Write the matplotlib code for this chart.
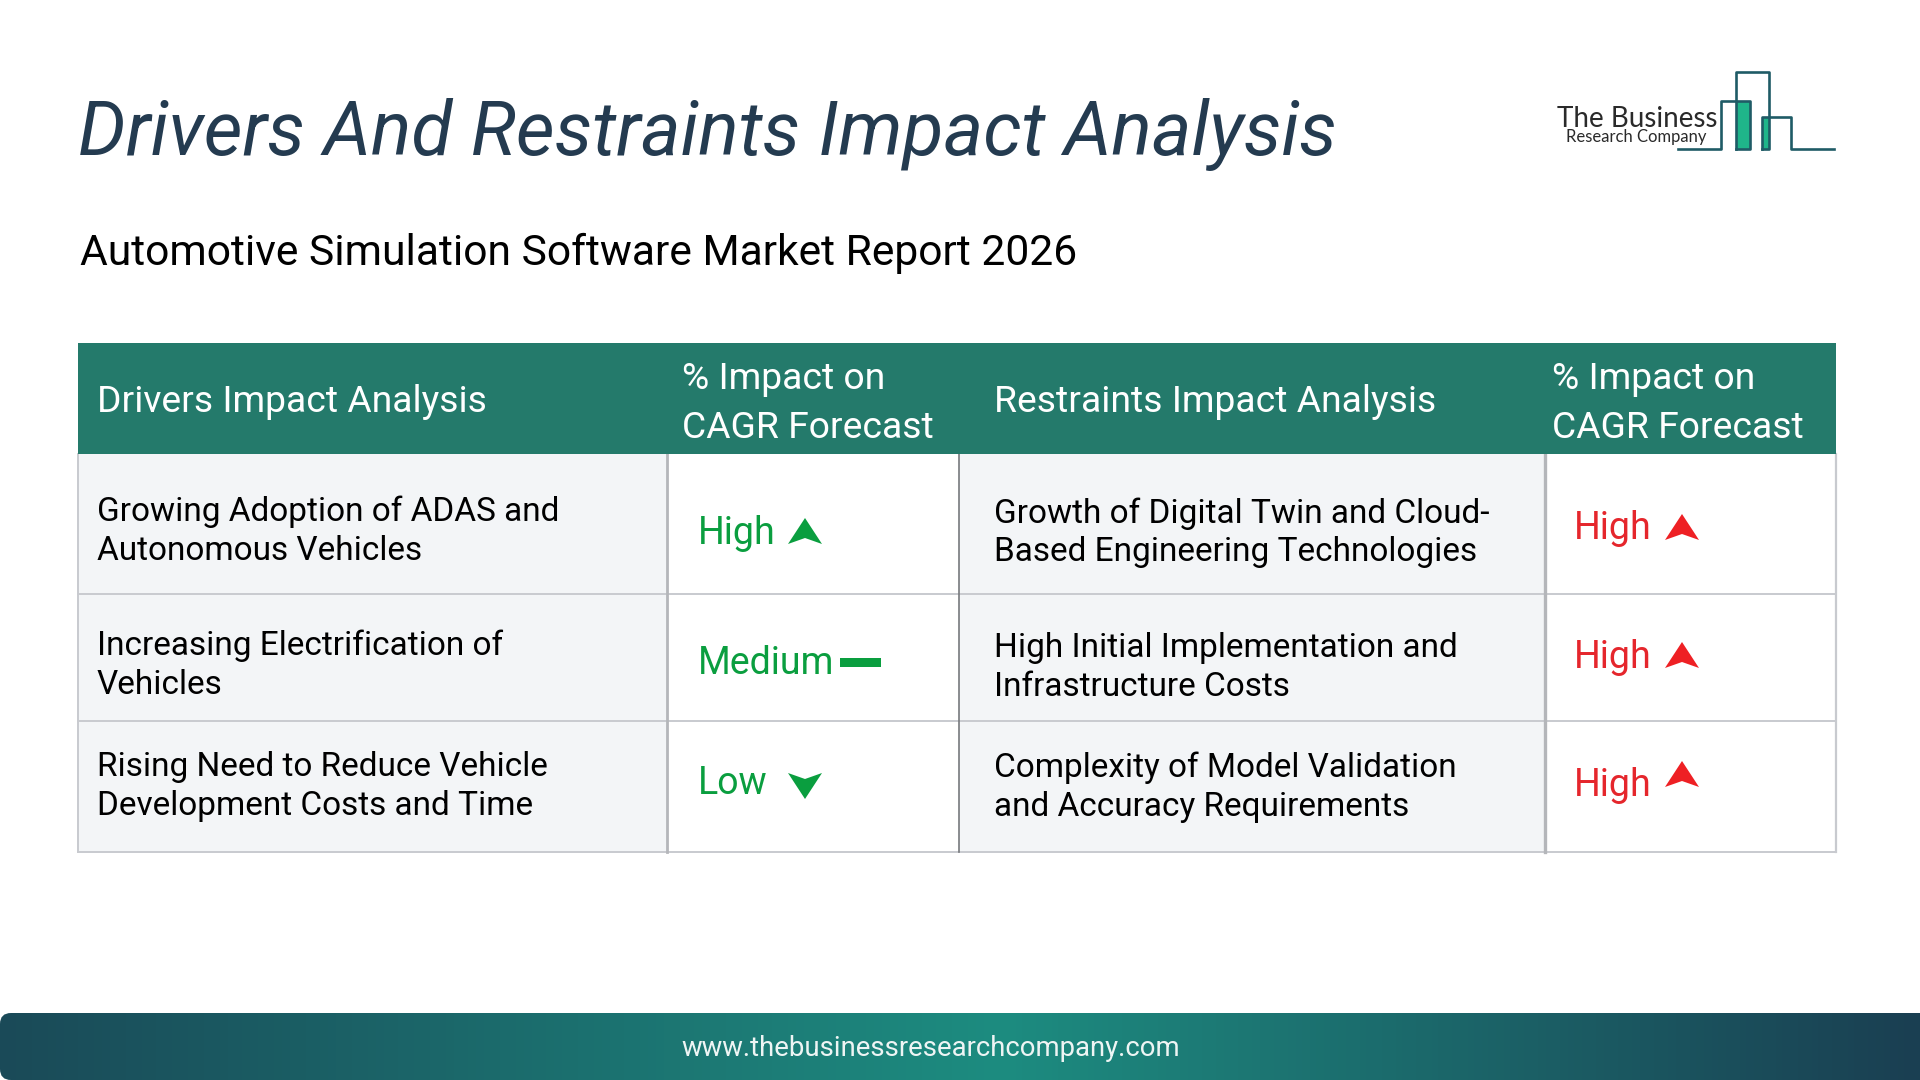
import matplotlib
matplotlib.use("Agg")
import matplotlib.pyplot as plt
from matplotlib.colors import LinearSegmentedColormap
from matplotlib.patches import FancyBboxPatch, PathPatch, Rectangle
from matplotlib.path import Path
import numpy as np

title = "Drivers And Restraints Impact Analysis"
subtitle = "Automotive Simulation Software Market Report 2026"
website = "www.thebusinessresearchcompany.com"

header_drivers = "Drivers Impact Analysis"
header_restraints = "Restraints Impact Analysis"
header_impact = ["% Impact on", "CAGR Forecast"]

drivers = [
    ["Growing Adoption of ADAS and", "Autonomous Vehicles"],
    ["Increasing Electrification of", "Vehicles"],
    ["Rising Need to Reduce Vehicle", "Development Costs and Time"],
]
driver_impact = ["High", "Medium", "Low"]
restraints = [
    ["Growth of Digital Twin and Cloud-", "Based Engineering Technologies"],
    ["High Initial Implementation and", "Infrastructure Costs"],
    ["Complexity of Model Validation", "and Accuracy Requirements"],
]
restraint_impact = ["High", "High", "High"]

FONT = "Roboto"
GREEN = "#0a9e3f"
RED = "#e5262c"
HEAD = "#247a6b"
PALE = "#f3f5f7"
GRID = "#c8cacf"

# layout in pixels of the 1920x1080 picture
col_x = [77.5, 667, 959, 1545, 1836]
row_y = [343, 454, 594, 721, 852]
driver_base = [[520.5, 560], [655, 694], [776, 815]]
restraint_base = [[522.5, 561], [656.5, 696], [777, 816]]
driver_level_base = [544, 674, 794]
restraint_level_base = [539, 668, 796]
restraint_arrow_base = [540, 668, 787]

up_arrow = Path([(-17, 0), (0, -26), (17, 0), (0, -6), (-17, 0)],
                [Path.MOVETO, Path.LINETO, Path.LINETO, Path.LINETO, Path.CLOSEPOLY])
down_arrow = Path([(-17, 0), (0, 6), (17, 0), (0, 26), (-17, 0)],
                  [Path.MOVETO, Path.LINETO, Path.LINETO, Path.LINETO, Path.CLOSEPOLY])

fig = plt.figure(figsize=(19.2, 10.8), dpi=100)
ax = fig.add_axes([0, 0, 1, 1])
ax.set_xlim(0, 1920)
ax.set_ylim(1080, 0)
ax.axis("off")


def put_arrow(path, x, y, color):
    verts = path.vertices + np.array([x, y])
    ax.add_patch(PathPatch(Path(verts, path.codes), fc=color, ec="none", zorder=4))


ax.text(78, 155, title, family=FONT, style="italic", fontsize=54.2, color="#243b50", va="baseline")
ax.text(80, 265.5, subtitle, family=FONT, fontsize=30.7, color="black", va="baseline")

# table
for c in range(4):
    face = PALE if c % 2 == 0 else "white"
    ax.add_patch(Rectangle((col_x[c], row_y[1]), col_x[c + 1] - col_x[c], row_y[-1] - row_y[1],
                           fc=face, ec="none", zorder=1))
ax.add_patch(Rectangle((col_x[0], row_y[0]), col_x[-1] - col_x[0], row_y[1] - row_y[0],
                       fc=HEAD, ec="none", zorder=3))
for y in row_y[2:]:
    ax.plot([col_x[0], col_x[-1]], [y, y], color=GRID, lw=1.4, zorder=2)
ax.plot([col_x[0], col_x[0]], [row_y[1], row_y[-1]], color=GRID, lw=1.4, zorder=2)
ax.plot([col_x[-1], col_x[-1]], [row_y[1], row_y[-1]], color=GRID, lw=1.6, zorder=2)
ax.plot([col_x[1], col_x[1]], [row_y[1], row_y[-1]], color="#b4b6ba", lw=2, zorder=2)
ax.plot([col_x[2], col_x[2]], [row_y[1], row_y[-1]], color="#77797d", lw=1.2, zorder=2)
ax.plot([col_x[3], col_x[3]], [row_y[1], row_y[-1]], color="#b4b6ba", lw=2.4, zorder=2)

ax.text(97, 411.5, header_drivers, family=FONT, fontsize=26.8, color="white", va="baseline", zorder=5)
ax.text(994, 411.5, header_restraints, family=FONT, fontsize=26.8, color="white", va="baseline", zorder=5)
for x in [682, 1552]:
    ax.text(x, 389, header_impact[0], family=FONT, fontsize=26.8, color="white", va="baseline", zorder=5)
    ax.text(x, 437.5, header_impact[1], family=FONT, fontsize=26.8, color="white", va="baseline", zorder=5)

for lines, bases in zip(drivers, driver_base):
    for line, b in zip(lines, bases):
        ax.text(97, b, line, family=FONT, fontsize=24, color="black", va="baseline", zorder=5)
for lines, bases in zip(restraints, restraint_base):
    for line, b in zip(lines, bases):
        ax.text(994, b, line, family=FONT, fontsize=24, color="black", va="baseline", zorder=5)

for level, b in zip(driver_impact, driver_level_base):
    ax.text(698, b, level, family=FONT, fontsize=27, color=GREEN, va="baseline", zorder=5)
    if level == "High":
        put_arrow(up_arrow, 805, b, GREEN)
    elif level == "Low":
        put_arrow(down_arrow, 805, b - 21, GREEN)
    else:
        ax.add_patch(Rectangle((840, b - 16), 41, 9, fc=GREEN, ec="none", zorder=4))

for level, b, a in zip(restraint_impact, restraint_level_base, restraint_arrow_base):
    ax.text(1574, b, level, family=FONT, fontsize=27, color=RED, va="baseline", zorder=5)
    put_arrow(up_arrow, 1682, a, "#ee2024")

# logo
teal = "#1f5b66"
ax.add_patch(Rectangle((1736, 101), 14, 48, fc="#1fb58a", ec="none", zorder=2))
ax.add_patch(Rectangle((1762, 117), 7, 32, fc="#1fb58a", ec="none", zorder=2))
ax.plot([1678, 1721, 1721, 1750, 1750, 1736], [149, 149, 101, 101, 149, 149], color=teal, lw=1.9, zorder=3)
ax.plot([1736, 1736, 1769, 1769, 1762], [149, 72, 72, 149, 149], color=teal, lw=1.9, zorder=3)
ax.plot([1762, 1762, 1791, 1791, 1834], [149, 117, 117, 149, 149], color=teal, lw=1.9, zorder=3)
ax.text(1557, 127, "The Business", family="Lato", fontsize=20, color="#2a2a2a", va="baseline")
ax.text(1566, 142, "Research Company", family="Lato", fontsize=12, color="#2a2a2a", va="baseline")

# footer band
cmap = LinearSegmentedColormap.from_list("band", ["#1a4a58", "#1d8c80", "#1a3f52"])
grad = np.concatenate([np.linspace(0, 0.5, 500), np.linspace(0.5, 1, 460)]).reshape(1, -1)
im = ax.imshow(grad, cmap=cmap, extent=(0, 1920, 1080, 1013), aspect="auto", zorder=1)
clip = FancyBboxPatch((0, 1013), 2000, 67, boxstyle="round,pad=0,rounding_size=11",
                      fc="none", ec="none", transform=ax.transData)
ax.add_patch(clip)
im.set_clip_path(clip)
ax.set_xlim(0, 1920)
ax.set_ylim(1080, 0)
ax.text(931, 1049, website, family=FONT, fontsize=19.8, color="#eef5f4", ha="center", va="center", zorder=5)

fig.savefig("out.png", dpi=100, facecolor="white")
